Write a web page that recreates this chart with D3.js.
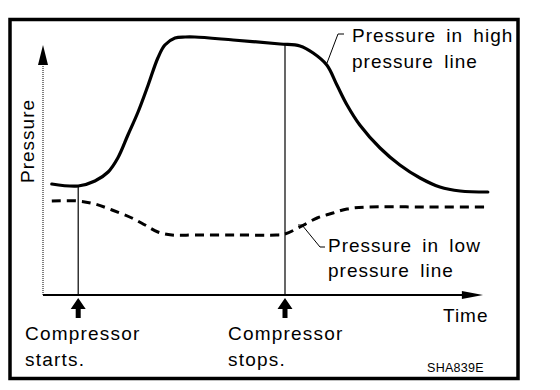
<!DOCTYPE html>
<html>
<head>
<meta charset="utf-8">
<script src="https://cdn.jsdelivr.net/npm/d3@7"></script>
<style>
  html, body { margin: 0; padding: 0; background: #fff; }
  svg { display: block; }
  text { font-family: "Liberation Sans", Arial, Helvetica, sans-serif; fill: #000; }
</style>
</head>
<body>
<svg id="chart" width="560" height="390"></svg>
<script>
// ---- data (time units 0..100, pressure units 0..100) ----
const highTime     = [2.0, 8.0, 11.8, 14.8, 17.0, 19.3, 21.6, 23.9, 26.1, 27.7, 30.0, 32.3, 34.5, 43.2, 53.9, 58.4, 61.4, 64.5, 66.8, 69.1, 72.0, 76.6, 81.1, 85.7, 90.2, 94.8, 101.1];
const highPressure = [44.4, 43.6, 45.6, 49.2, 54.8, 64.0, 73.2, 84.0, 94.8, 100.0, 102.8, 103.2, 103.2, 102.0, 100.4, 99.6, 96.8, 92.0, 84.0, 76.0, 68.0, 58.8, 52.0, 46.8, 43.2, 41.6, 41.2];
const lowTime      = [2.0, 8.0, 11.8, 15.7, 20.2, 23.2, 26.1, 29.3, 34.5, 44.0, 53.0, 55.0, 58.4, 62.3, 65.9, 69.1, 73.6, 87.0, 101.1];
const lowPressure  = [37.6, 37.6, 36.4, 34.0, 30.8, 28.0, 25.2, 24.0, 24.0, 24.0, 24.0, 24.4, 27.2, 30.8, 32.8, 34.4, 35.2, 35.2, 35.2];
const eventTimes   = [8, 55];
const eventLabels  = [["Compressor", "starts."], ["Compressor", "stops."]];
const highLabel    = ["Pressure in high", "pressure line"];
const lowLabel     = ["Pressure in low", "pressure line"];
const xTitle = "Time";
const yTitle = "Pressure";
const figureCode = "SHA839E";

// ---- layout ----
const svg = d3.select("#chart");
const x = d3.scaleLinear().domain([0, 100]).range([43, 483]);
const y = d3.scaleLinear().domain([0, 100]).range([295, 45]);

// frame
svg.append("rect").attr("x", 10).attr("y", 19.5).attr("width", 508).attr("height", 359)
  .attr("fill", "none").attr("stroke", "#000").attr("stroke-width", 3.5);

// y axis (dotted) with arrow
svg.append("line").attr("x1", x(0)).attr("x2", x(0)).attr("y1", y(0)).attr("y2", y(92))
  .attr("stroke", "#000").attr("stroke-width", 1).attr("stroke-dasharray", "1,1");
svg.append("path")
  .attr("d", `M${x(0)},${y(100)} L${x(0) - 5},${y(92)} L${x(0) + 5},${y(92)} Z`)
  .attr("fill", "#000");

// x axis with arrow
svg.append("line").attr("x1", x(0)).attr("x2", x(95.5)).attr("y1", y(0)).attr("y2", y(0))
  .attr("stroke", "#000").attr("stroke-width", 2);
svg.append("path")
  .attr("d", `M${x(100)},${y(0)} L${x(95.2)},${y(0) - 4} L${x(95.2)},${y(0) + 4} Z`)
  .attr("fill", "#000");

// event vertical lines
const highAt = t => {
  const i = d3.bisectLeft(highTime, t);
  if (highTime[i] === t) return highPressure[i];
  const t0 = highTime[i - 1], t1 = highTime[i];
  return highPressure[i - 1] + (highPressure[i] - highPressure[i - 1]) * (t - t0) / (t1 - t0);
};
eventTimes.forEach((t, k) => {
  svg.append("line").attr("x1", x(t)).attr("x2", x(t))
    .attr("y1", y(highAt(t))).attr("y2", y(0))
    .attr("stroke", "#000").attr("stroke-width", 1.2);
  // up arrow below axis
  const cx = x(t);
  svg.append("path")
    .attr("d", `M${cx},298 L${cx - 7.5},309 L${cx - 2.5},309 L${cx - 2.5},318 L${cx + 2.5},318 L${cx + 2.5},309 L${cx + 7.5},309 Z`)
    .attr("fill", "#000");
  const lx = k === 0 ? 25 : 228;
  eventLabels[k].forEach((s, j) => {
    svg.append("text").attr("x", lx).attr("y", 340 + j * 26)
      .attr("font-size", 19).attr("letter-spacing", 1.2).text(s);
  });
});

// lines
const line = d3.line().x(d => x(d[0])).y(d => y(d[1])).curve(d3.curveCatmullRom.alpha(0.5));
svg.append("path").datum(d3.zip(highTime, highPressure)).attr("d", line)
  .attr("fill", "none").attr("stroke", "#000").attr("stroke-width", 3.2).attr("stroke-linecap", "round");
svg.append("path").datum(d3.zip(lowTime, lowPressure)).attr("d", line)
  .attr("fill", "none").attr("stroke", "#000").attr("stroke-width", 3).attr("stroke-dasharray", "9,6");

// leaders
svg.append("path").attr("d", "M327,63 L338,34 L344,34")
  .attr("fill", "none").attr("stroke", "#000").attr("stroke-width", 1);
svg.append("path").attr("d", "M298,225 L306,225 M302,225 L320,247 L325,247")
  .attr("fill", "none").attr("stroke", "#000").attr("stroke-width", 1);

// series labels
highLabel.forEach((s, j) => {
  svg.append("text").attr("x", 352).attr("y", 42 + j * 26)
    .attr("font-size", 19).attr("letter-spacing", 1).attr("word-spacing", 4).text(s);
});
lowLabel.forEach((s, j) => {
  svg.append("text").attr("x", 328).attr("y", 252 + j * 25)
    .attr("font-size", 19).attr("letter-spacing", 1).attr("word-spacing", 4).text(s);
});

// axis titles
svg.append("text").attr("x", 443).attr("y", 322)
  .attr("font-size", 19).attr("letter-spacing", 1).text(xTitle);
svg.append("text").attr("transform", "translate(34,183) rotate(-90)")
  .attr("font-size", 19).attr("letter-spacing", 1).text(yTitle);

// figure code
svg.append("text").attr("x", 427).attr("y", 372)
  .attr("font-size", 12.5).attr("letter-spacing", 0.3).text(figureCode);
</script>
</body>
</html>
